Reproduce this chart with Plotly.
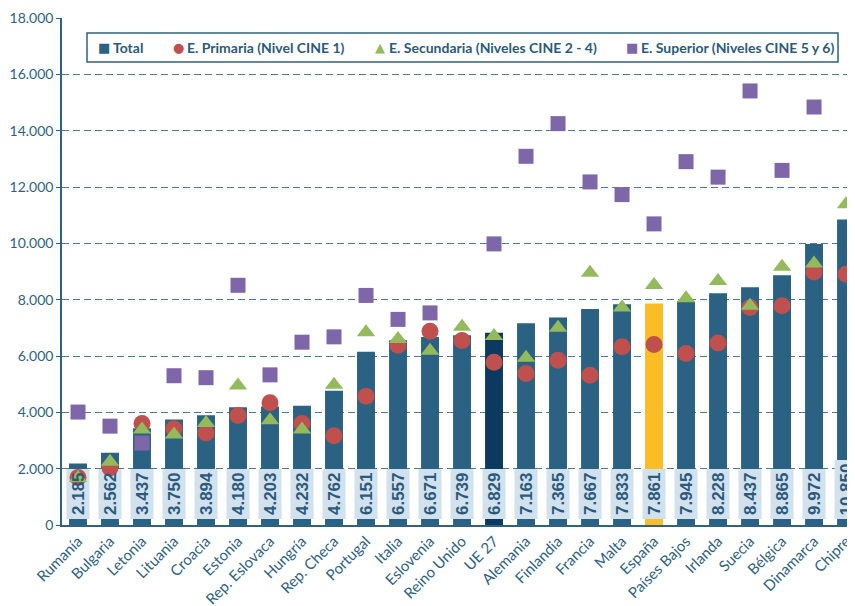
import plotly.graph_objects as go

countries = ["Rumanía", "Bulgaria", "Letonia", "Lituania", "Croacia", "Estonia",
             "Rep. Eslovaca", "Hungría", "Rep. Checa", "Portugal", "Italia",
             "Eslovenia", "Reino Unido", "UE 27", "Alemania", "Finlandia",
             "Francia", "Malta", "España", "Países Bajos", "Irlanda", "Suecia",
             "Bélgica", "Dinamarca", "Chipre"]
total = [2185, 2562, 3437, 3750, 3894, 4180, 4203, 4232, 4762, 6151, 6557, 6671,
         6739, 6829, 7163, 7365, 7667, 7833, 7861, 7945, 8228, 8437, 8865, 9972, 10850]
primaria = [1690, 2020, 3600, 3420, 3270, 3890, 4340, 3600, 3170, 4570, 6380, 6880,
            6550, 5780, 5380, 5850, 5320, 6330, 6410, 6090, 6460, 7720, 7780, 8980, 8900]
secundaria = [1670, 2250, 3390, 3210, 3620, 4950, 3720, 3390, 4980, 6840, 6600, 6190,
              7040, 6710, 5940, 7000, 8960, 7720, 8520, 8050, 8660, 7780, 9170, 9280, 11390]
superior = [4010, 3510, 2910, 5300, 5230, 8510, 5330, 6490, 6680, 8150, 7300, 7530,
            None, 9980, 13090, 14250, 12180, 11730, 10690, 12900, 12350, 15410,
            12590, 14840, None]
y_ticks = [0, 2000, 4000, 6000, 8000, 10000, 12000, 14000, 16000, 18000]

C_TOTAL = "#2b6182"
C_UE = "#0c3a5f"
C_ES = "#fbbd26"
C_PRIM = "#c0504d"
C_SEC = "#93bb5c"
C_SUP = "#7e67a8"
C_TXT = "#2e6282"
C_BOX = "#d2e1ee"

def fmt(v):
    return f"{v:,}".replace(",", ".")

labels = [fmt(v) for v in total]

# page offset (body margin 8px) -> figure coordinates
OFF = 8
L, W = 62, 793
TOP, BOT = 18, 525
YMAX = 18000
UNIT = YMAX / (BOT - TOP)          # data units per pixel
def px(xp):
    return (xp - L) / W
def py(yp):
    return (BOT - yp) / (BOT - TOP)

bar_colors = [C_UE if c == "UE 27" else C_ES if c == "España" else C_TOTAL for c in countries]

# label background boxes (drawn under the markers, like the original)
box_base = 6 * UNIT
box_len = [(9 * len(t) + 5) * UNIT for t in labels]

fig = go.Figure()
fig.add_trace(go.Bar(x=countries, y=total, name="Total", marker_color=bar_colors,
                     width=0.56, marker_line_width=0))
fig.add_trace(go.Bar(x=countries, y=box_len, base=[box_base] * len(countries),
                     marker_color=C_BOX, width=0.72, marker_line_width=0,
                     showlegend=False, hoverinfo="skip"))
fig.add_trace(go.Scatter(x=countries, y=primaria, name="E. Primaria (Nivel CINE 1)",
                         mode="markers", marker=dict(symbol="circle", size=17, color=C_PRIM)))
fig.add_trace(go.Scatter(x=countries, y=secundaria, name="E. Secundaria (Niveles CINE 2 - 4)",
                         mode="markers", marker=dict(symbol="triangle-up", size=16, color=C_SEC)))
fig.add_trace(go.Scatter(x=countries, y=superior, name="E. Superior (Niveles CINE 5 y 6)",
                         mode="markers", marker=dict(symbol="square", size=15, color=C_SUP)))

annotations = []
for c, t, bl in zip(countries, labels, box_len):
    annotations.append(dict(
        x=c, xref="x", y=box_base + bl / 2, yref="y", yanchor="middle", xanchor="center",
        text=t, textangle=-90, showarrow=False,
        font=dict(family="Liberation Sans", size=17, color="#2b5a7c", weight="bold")))

leg_y = py(47.5)
legend_items = [
    ("■", C_TOTAL, "Total", 103.5, 111),
    ("●", C_PRIM, "E. Primaria (Nivel CINE 1)", 178, 185),
    ("▲", C_SEC, "E. Secundaria (Niveles CINE 2 - 4)", 380, 387),
    ("■", C_SUP, "E. Superior (Niveles CINE 5 y 6)", 631.5, 639),
]
for sym, col, label, sx, tx in legend_items:
    annotations.append(dict(x=px(sx), y=leg_y, xref="paper", yref="paper",
                            xanchor="center", yanchor="middle", text=sym, showarrow=False,
                            font=dict(family="DejaVu Sans", size=13, color=col)))
    annotations.append(dict(x=px(tx), y=leg_y, xref="paper", yref="paper",
                            xanchor="left", yanchor="middle", text=label, showarrow=False,
                            font=dict(family="Lato", size=14, color="#2b5a7a", weight="bold")))

shapes = [dict(type="rect", xref="paper", yref="paper",
               x0=px(87), x1=px(838), y0=py(62), y1=py(33),
               line=dict(color=C_TXT, width=1.5), fillcolor="white", layer="above")]

fig.update_layout(
    width=855 - OFF, height=606 - OFF,
    margin=dict(l=L - OFF, r=0, t=TOP - OFF, b=606 - BOT),
    paper_bgcolor="white", plot_bgcolor="white",
    separators=",.",
    showlegend=False,
    barmode="overlay",
    annotations=annotations,
    shapes=shapes,
    xaxis=dict(type="category", range=[-0.5, 24.28], showline=True, linecolor=C_TXT,
               linewidth=1.5, tickangle=-45, ticks="", automargin=False,
               tickfont=dict(family="Lato", size=15, color=C_TXT), showgrid=False),
    yaxis=dict(range=[0, YMAX], tickvals=y_ticks, tickformat=",.0f", showline=True,
               linecolor=C_TXT, linewidth=1.5, ticks="outside", ticklen=4, tickcolor=C_TXT,
               showgrid=True, gridcolor="#4f7a96", gridwidth=1, griddash="7px,4px",
               zeroline=False, automargin=False,
               tickfont=dict(family="Lato", size=14, color=C_TXT)),
)

fig.write_html("out.html")
